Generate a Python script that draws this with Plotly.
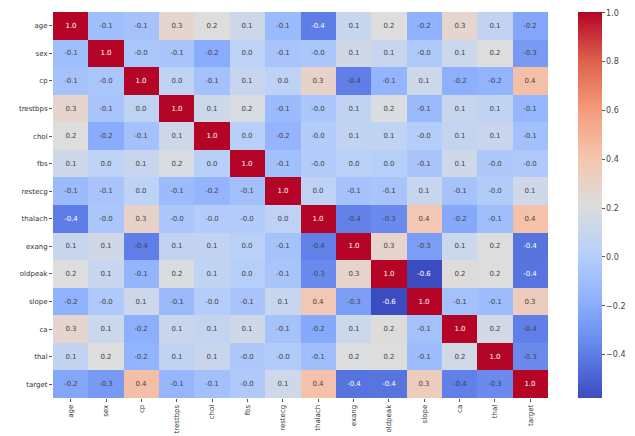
import plotly.graph_objects as go

labels = ["age", "sex", "cp", "trestbps", "chol", "fbs", "restecg", "thalach",
          "exang", "oldpeak", "slope", "ca", "thal", "target"]

age      = [1.0, -0.098, -0.069, 0.279, 0.214, 0.121, -0.116, -0.399, 0.097, 0.210, -0.169, 0.276, 0.068, -0.225]
sex      = [-0.098, 1.0, -0.049, -0.057, -0.198, 0.045, -0.058, -0.044, 0.142, 0.096, -0.031, 0.118, 0.210, -0.281]
cp       = [-0.069, -0.049, 1.0, 0.048, -0.077, 0.094, 0.044, 0.296, -0.394, -0.149, 0.120, -0.181, -0.162, 0.434]
trestbps = [0.279, -0.057, 0.048, 1.0, 0.123, 0.178, -0.114, -0.047, 0.068, 0.193, -0.121, 0.101, 0.062, -0.145]
chol     = [0.214, -0.198, -0.077, 0.123, 1.0, 0.013, -0.151, -0.010, 0.067, 0.054, -0.004, 0.071, 0.099, -0.085]
fbs      = [0.121, 0.045, 0.094, 0.178, 0.013, 1.0, -0.084, -0.009, 0.026, 0.006, -0.060, 0.138, -0.032, -0.028]
restecg  = [-0.116, -0.058, 0.044, -0.114, -0.151, -0.084, 1.0, 0.044, -0.071, -0.059, 0.093, -0.072, -0.012, 0.137]
thalach  = [-0.399, -0.044, 0.296, -0.047, -0.010, -0.009, 0.044, 1.0, -0.379, -0.344, 0.387, -0.213, -0.096, 0.422]
exang    = [0.097, 0.142, -0.394, 0.068, 0.067, 0.026, -0.071, -0.379, 1.0, 0.288, -0.258, 0.116, 0.207, -0.437]
oldpeak  = [0.210, 0.096, -0.149, 0.193, 0.054, 0.006, -0.059, -0.344, 0.288, 1.0, -0.578, 0.223, 0.210, -0.431]
slope    = [-0.169, -0.031, 0.120, -0.121, -0.004, -0.060, 0.093, 0.387, -0.258, -0.578, 1.0, -0.080, -0.105, 0.346]
ca       = [0.276, 0.118, -0.181, 0.101, 0.071, 0.138, -0.072, -0.213, 0.116, 0.223, -0.080, 1.0, 0.152, -0.392]
thal     = [0.068, 0.210, -0.162, 0.062, 0.099, -0.032, -0.012, -0.096, 0.207, 0.210, -0.105, 0.152, 1.0, -0.344]
target   = [-0.225, -0.281, 0.434, -0.145, -0.085, -0.028, 0.137, 0.422, -0.437, -0.431, 0.346, -0.392, -0.344, 1.0]

z = [age, sex, cp, trestbps, chol, fbs, restecg, thalach, exang, oldpeak, slope, ca, thal, target]
text = [[f"{v:.1f}" for v in row] for row in z]

colorbar_ticks = [-0.4, -0.2, 0.0, 0.2, 0.4, 0.6, 0.8, 1.0]

coolwarm = [
    [0.0, "rgb(59,76,192)"],
    [0.125, "rgb(98,130,234)"],
    [0.25, "rgb(141,176,254)"],
    [0.375, "rgb(184,208,249)"],
    [0.5, "rgb(221,221,221)"],
    [0.625, "rgb(245,196,173)"],
    [0.75, "rgb(244,154,123)"],
    [0.875, "rgb(222,96,77)"],
    [1.0, "rgb(180,4,38)"],
]

fig = go.Figure(go.Heatmap(
    z=z, x=labels, y=labels,
    colorscale=coolwarm,
    zmin=min(min(r) for r in z), zmax=1.003,
    text=text,
    texttemplate="%{text}",
    textfont=dict(size=7, family="DejaVu Sans"),
    colorbar=dict(
        x=0.8898, xanchor="left", y=0.5, yanchor="middle",
        len=1.0, lenmode="fraction", ypad=0, xpad=0,
        thickness=24, outlinewidth=0,
        tickvals=colorbar_ticks,
        ticktext=[("\u2212" if v < 0 else "") + f"{abs(v):.1f}" for v in colorbar_ticks],
        ticks="outside", ticklen=3, tickcolor="#555",
        tickfont=dict(size=8, color="#444", family="DejaVu Sans"),
    ),
))

fig.update_layout(
    width=635, height=436,
    margin=dict(l=45, r=0, t=4, b=46, autoexpand=False),
    paper_bgcolor="white", plot_bgcolor="white",
    xaxis=dict(domain=[0, 0.839], tickangle=-90,
               tickfont=dict(size=7, color="#333", family="DejaVu Sans"),
               ticks="outside", ticklen=3, tickcolor="#555", automargin=False,
               showgrid=False, zeroline=False),
    yaxis=dict(autorange="reversed", tickfont=dict(size=7, color="#333", family="DejaVu Sans"),
               ticks="outside", ticklen=3, tickcolor="#555", automargin=False,
               showgrid=False, zeroline=False),
)

fig.write_html("out.html")
